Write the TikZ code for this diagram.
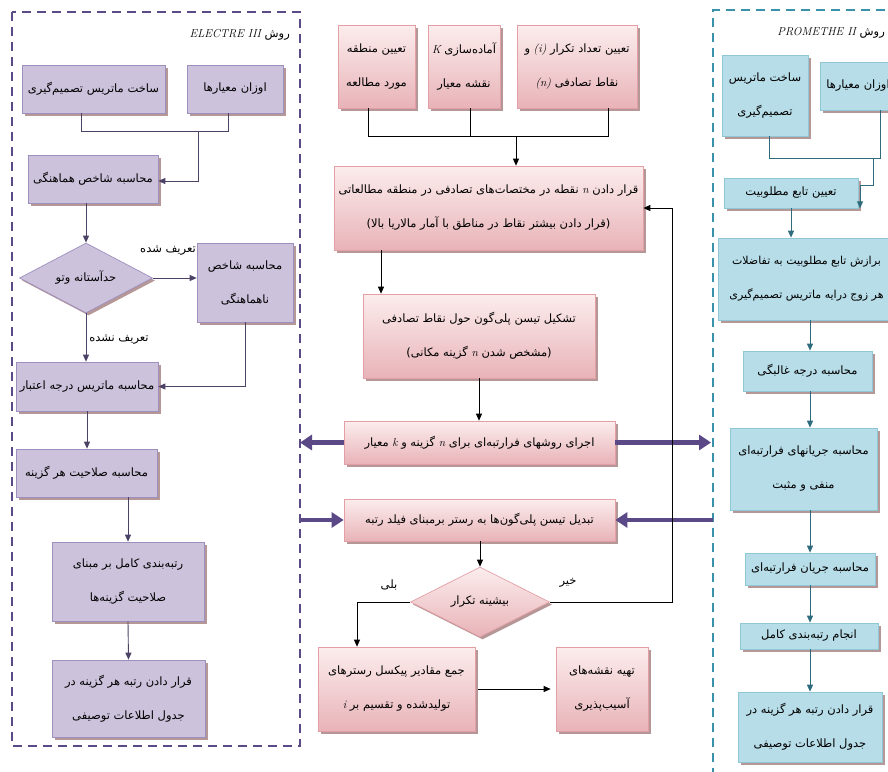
\documentclass[tikz,border=0pt]{standalone}
\usepackage{fontspec}
\usetikzlibrary{arrows.meta,shapes.geometric,shadows}
\TeXXeTstate=1
\newfontfamily\fafont[Script=Arabic]{DejaVu Sans}
\newcommand\fa[1]{\beginR#1\endR}
\newcommand\latn[1]{\beginL{\normalfont\itshape #1}\endL}
\definecolor{purpleframe}{HTML}{5A4A86}
\definecolor{purplefill}{HTML}{CDC2DC}
\definecolor{purpleborder}{HTML}{9D90BF}
\definecolor{purpleline}{HTML}{4B4266}
\definecolor{pinktop}{HTML}{FCEDED}
\definecolor{pinkbot}{HTML}{E8B3B8}
\definecolor{pinkborder}{HTML}{E39FA5}
\definecolor{bluefill}{HTML}{B7DDE8}
\definecolor{blueborder}{HTML}{8FC7D5}
\definecolor{tealframe}{HTML}{3A92AA}
\definecolor{tealline}{HTML}{2E6B7D}
\definecolor{shadowc}{HTML}{A98585}
\definecolor{thickc}{HTML}{5B4886}
\begin{document}
\begin{tikzpicture}[x=1pt,y=-1pt,
 every node/.style={font=\fafont\fontsize{11.5}{34}\selectfont, inner sep=2pt, align=center},
 sz/.style 2 args={minimum width=#1pt,minimum height=#2pt},
 shd/.style={drop shadow={shadow xshift=2.5pt,shadow yshift=-2.5pt,fill=shadowc,opacity=0.85}},
 pbox/.style={draw=purpleborder,fill=purplefill,line width=0.7pt,shd},
 kbox/.style={draw=pinkborder,top color=pinktop,bottom color=pinkbot,line width=0.7pt,shd},
 bbox/.style={draw=blueborder,fill=bluefill,line width=0.7pt,shd},
 ddia/.style={shape=diamond,aspect=2,inner sep=0pt},
 tip/.style={-{Triangle[length=7pt,width=6pt]}},
 lline/.style={draw=purpleline,line width=0.9pt},
 mline/.style={draw=black,line width=0.8pt},
 rline/.style={draw=tealline,line width=0.9pt},
 fat/.style={draw=thickc,line width=4.5pt,-{Triangle[length=12pt,width=15pt]}},
 lbl/.style={inner sep=1pt}
]
\useasboundingbox (0,0) rectangle (888,771);
\clip (0,0) rectangle (888,771);

% frames
\draw[draw=purpleframe,line width=2pt,dash pattern=on 9pt off 6pt] (12,12) rectangle (300,746);
\draw[draw=tealframe,line width=2pt,dash pattern=on 9pt off 6pt] (900,10) -- (713,10) -- (713,800);

% ---------- left column (ELECTRE III)
\node[anchor=east] (Lt) at (292,35) {\fa{روش \latn{ELECTRE III}}};
\node[pbox,sz={96}{48}] (L1) at (235,89) {\fa{اوزان معیارها}};
\node[pbox,sz={143}{48}] (L2) at (93.5,89) {\fa{ساخت ماتریس تصمیم^^^^200cگیری}};
\node[pbox,sz={130}{48}] (L3) at (93,179) {\fa{محاسبه شاخص هماهنگی}};
\node[ddia,draw=purpleborder,fill=purplefill,line width=0.7pt,shd,minimum width=133pt,minimum height=70pt] (LD) at (86,278) {\fa{حدآستانه وتو}};
\node[pbox,sz={96}{79}] (L4) at (245,282.5) {\fa{محاسبه شاخص}\\\fa{ناهماهنگی}};
\node[pbox,sz={142}{49}] (L5) at (87,386.5) {\fa{محاسبه ماتریس درجه اعتبار}};
\node[pbox,sz={141}{48}] (L6) at (86.5,473) {\fa{محاسبه صلاحیت هر گزینه}};
\node[pbox,sz={152}{79}] (L7) at (128,581.5) {\fa{رتبه^^^^200cبندی کامل بر مبنای}\\\fa{صلاحیت گزینه^^^^200cها}};
\node[pbox,sz={153}{77}] (L8) at (128.5,698.5) {\fa{قرار دادن رتبه هر گزینه در}\\\fa{جدول اطلاعات توصیفی}};
\node[lbl] (La) at (168,251) {\fa{تعریف شده}};
\node[lbl] (Lb) at (119,340) {\fa{تعریف نشده}};

\coordinate (jA) at (81,131);
\coordinate (jB) at (228,131);
\coordinate (jC) at (198,131);
\coordinate (jD) at (198,181);
\draw[lline] (L2.south -| jA) -- (jA) -- (jB) -- (L1.south -| jB);
\draw[lline,tip] (jC) -- (jD) -- (L3.east |- jD);
\draw[lline,tip] (L3.south -| LD.north) -- (LD.north);
\draw[lline,tip] (LD.east) -- (LD.east -| L4.west);
\draw[lline,tip] (LD.south) -- (LD.south |- L5.north);
\draw[lline,tip] (L4.south) |- (L5.east);
\draw[lline,tip] (L5.south) -- (L5.south |- L6.north);
\draw[lline,tip] (L6.south -| L7.north) -- (L7.north);
\draw[lline,tip] (L7.south) -- (L8.north);

% ---------- middle column
\node[kbox,sz={77}{83}] (M1) at (376.5,66.5) {\fa{تعیین منطقه}\\\fa{مورد مطالعه}};
\node[kbox,sz={72}{83}] (M2) at (464,66.5) {\fa{آماده^^^^200cسازی \latn{K}}\\\fa{نقشه معیار}};
\node[kbox,sz={120}{83}] (M3) at (577,66.5) {\fa{تعیین تعداد تکرار \latn{(i)} و}\\\fa{نقاط تصادفی \latn{(n)}}};
\node[kbox,sz={309}{84}] (M4) at (488.5,208) {\fa{قرار دادن \latn{n} نقطه در مختصات^^^^200cهای تصادفی در منطقه مطالعاتی}\\\fa{(قرار دادن بیشتر نقاط در مناطق با آمار مالاریا بالا)}};
\node[kbox,sz={232}{84}] (M5) at (479,336) {\fa{تشکیل تیسن پلی^^^^200cگون حول نقاط تصادفی}\\\fa{(مشخص شدن \latn{n} گزینه مکانی)}};
\node[kbox,sz={271}{43}] (M6) at (479.5,442.5) {\fa{اجرای روشهای فرارتبه^^^^200cای برای \latn{n} گزینه و \latn{k} معیار}};
\node[kbox,sz={271}{42}] (M7) at (479.5,520) {\fa{تبدیل تیسن پلی^^^^200cگون^^^^200cها به رستر برمبنای فیلد رتبه}};
\node[ddia,draw=pinkborder,top color=pinktop,bottom color=pinkbot,line width=0.7pt,shd,minimum width=139pt,minimum height=70pt] (MD) at (480,602) {\fa{بیشینه تکرار}};
\node[kbox,sz={157}{84}] (M8) at (396.5,689) {\fa{جمع مقادیر پیکسل رسترهای}\\\fa{تولیدشده و تقسیم بر \latn{i}}};
\node[kbox,sz={92}{84}] (M9) at (602,689) {\fa{تهیه نقشه^^^^200cهای}\\\fa{آسیب^^^^200cپذیری}};
\node[lbl] (Ma) at (389,585) {\fa{بلی}};
\node[lbl] (Mb) at (568,583) {\fa{خیر}};

\coordinate (b1) at (368,136);
\coordinate (b2) at (470,136);
\coordinate (b3) at (608,136);
\coordinate (bm) at (516,136);
\coordinate (c1) at (381,250);
\coordinate (d1) at (357,647);
\coordinate (fb) at (672,208);
\draw[mline] (M1.south -| b1) -- (b1) -- (b3) -- (M3.south -| b3);
\draw[mline] (M2.south -| b2) -- (b2);
\draw[mline,tip] (bm) -- (bm |- M4.north);
\draw[mline,tip] (M4.south -| c1) -- (M5.north -| c1);
\draw[mline,tip] (M5.south) -- (M5.south |- M6.north);
\draw[mline,tip] (M7.south -| MD.north) -- (MD.north);
\draw[mline,tip] (MD.west) -| (M8.north -| d1);
\draw[mline,tip,shorten <=3pt,shorten >=5pt] (M8.east) -- (M9.west);

% thick arrows
\coordinate (pL1) at (300,442);
\coordinate (pR1) at (711,442);
\coordinate (pL2) at (300,520);
\coordinate (pR2) at (713,520);
\draw[fat] (M6.west) -- (M6.west -| pL1);
\draw[fat] (M6.east) -- (M6.east -| pR1);
\draw[fat] (M7.west -| pL2) -- (M7.west);
\draw[fat] (M7.east -| pR2) -- (M7.east);

\draw[mline,tip] (MD.east) -| (fb) -- (M4.east);

% ---------- right column (PROMETHE II)
\node[anchor=east] (Rt) at (887,33) {\fa{روش \latn{PROMETHE II}}};
\node[bbox,sz={76}{48}] (R1) at (858,86) {\fa{اوزان معیارها}};
\node[bbox,sz={86}{81}] (R2) at (765,95.5) {\fa{ساخت ماتریس}\\\fa{تصمیم^^^^200cگیری}};
\node[bbox,sz={134}{30}] (R3) at (791,193) {\fa{تعیین تابع مطلوبیت}};
\node[bbox,sz={177}{82},font=\fafont\fontsize{11}{34}\selectfont] (R4) at (806.5,279) {\fa{برازش تابع مطلوبیت به تفاضلات}\\\fa{هر زوج درایه ماتریس تصمیم^^^^200cگیری}};
\node[bbox,sz={129}{40}] (R5) at (807.5,371) {\fa{محاسبه درجه غالبگی}};
\node[bbox,sz={147}{82}] (R6) at (803.5,469) {\fa{محاسبه جریانهای فرارتبه^^^^200cای}\\\fa{منفی و مثبت}};
\node[bbox,sz={130}{32}] (R7) at (810,569) {\fa{محاسبه جریان فرارتبه^^^^200cای}};
\node[bbox,sz={138}{26}] (R8) at (809,636) {\fa{انجام رتبه^^^^200cبندی کامل}};
\node[bbox,sz={144}{70}] (R9) at (810,727) {\fa{قرار دادن رتبه هر گزینه در}\\\fa{جدول اطلاعات توصیفی}};

\coordinate (e1) at (769,158);
\coordinate (e2) at (880,158);
\coordinate (e3) at (873,158);
\coordinate (e4) at (873,185);
\coordinate (e5) at (860,185);
\coordinate (e6) at (810,0);
\draw[rline] (R2.south -| e1) -- (e1) -- (e2) -- (R1.south -| e2);
\draw[rline,tip] (e3) -- (e4) -- (e5) -- (R3.south -| e5);
\draw[rline,tip] (R3.south) -- (R3.south |- R4.north);
\draw[rline,tip] (R4.south -| e6) -- (R5.north -| e6);
\draw[rline,tip] (R5.south -| e6) -- (R6.north -| e6);
\draw[rline,tip] (R6.south -| e6) -- (R7.north -| e6);
\draw[rline,tip] (R7.south -| e6) -- (R8.north -| e6);
\draw[rline,tip] (R8.south -| e6) -- (R9.north -| e6);
\end{tikzpicture}
\end{document}
